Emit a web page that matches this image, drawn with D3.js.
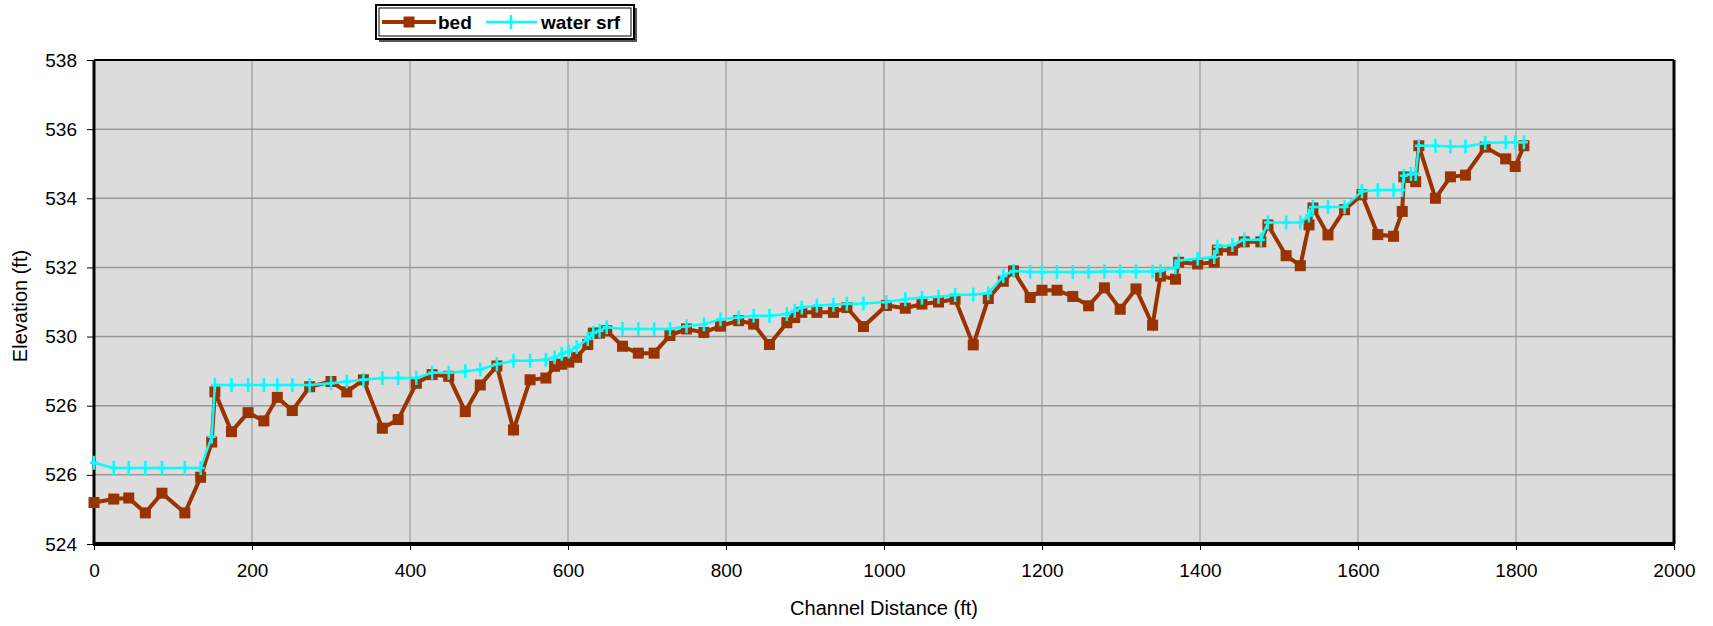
<!DOCTYPE html>
<html>
<head>
<meta charset="utf-8">
<script src="https://cdn.jsdelivr.net/npm/d3@7"></script>
<style>
  body { margin: 0; background: #fff; }
  text { font-family: "Liberation Sans", Arial, sans-serif; fill: #000; }
</style>
</head>
<body>
<div id="chart"></div>
<script>
// channel distance (ft) of each surveyed cross section
var distance = [0, 25, 44, 65, 86, 115, 135, 149, 153, 174, 195, 215, 232, 251, 273, 300, 320, 341, 365, 385,
  408, 428, 449, 470, 489, 510, 531, 552, 572, 583, 592, 601, 611, 625, 632, 640, 649, 669, 689, 709,
  729, 750, 772, 793, 816, 835, 855, 877, 887, 896, 915, 936, 953, 974, 1003, 1027, 1048, 1069, 1090, 1113,
  1132, 1151, 1164, 1185, 1200, 1219, 1239, 1259, 1279, 1299, 1319, 1340, 1350, 1369, 1373, 1397, 1418, 1422, 1441, 1456,
  1477, 1486, 1509, 1527, 1538, 1543, 1562, 1583, 1605, 1625, 1645, 1656, 1658, 1667, 1673, 1677, 1698, 1717, 1736, 1761,
  1787, 1799, 1810];

// bed elevation (ft)
var bed = [525.2, 525.3, 525.33, 524.9, 525.47, 524.9, 525.93, 526.95, 528.4, 527.25, 527.8, 527.56, 528.24, 527.86, 528.55, 528.7, 528.4, 528.75, 527.35, 527.6,
  528.65, 528.9, 528.85, 527.83, 528.6, 529.15, 527.3, 528.75, 528.8, 529.14, 529.2, 529.26, 529.4, 529.77, 530.1, 530.1, 530.17, 529.72, 529.52, 529.52,
  530.03, 530.22, 530.12, 530.3, 530.46, 530.36, 529.77, 530.4, 530.55, 530.7, 530.7, 530.7, 530.84, 530.29, 530.9, 530.82, 530.94, 531.0, 531.08, 529.76,
  531.1, 531.6, 531.9, 531.13, 531.34, 531.34, 531.16, 530.89, 531.41, 530.79, 531.38, 530.33, 531.75, 531.66, 532.15, 532.1, 532.15, 532.5, 532.5, 532.74,
  532.74, 533.23, 532.34, 532.05, 533.23, 533.72, 532.94, 533.67, 534.1, 532.95, 532.9, 533.62, 534.62, 534.6, 534.48, 535.52, 534.0, 534.62, 534.67, 535.48,
  535.14, 534.92, 535.52];

// water surface elevation (ft)
var waterSrf = [526.35, 526.2, 526.2, 526.2, 526.2, 526.2, 526.2, 527.1, 528.6, 528.6, 528.6, 528.6, 528.6, 528.6, 528.6, 528.65, 528.7, 528.75, 528.8, 528.8,
  528.8, 528.95, 528.95, 529.0, 529.05, 529.2, 529.3, 529.3, 529.33, 529.4, 529.5, 529.57, 529.7, 529.93, 530.1, 530.17, 530.27, 530.22, 530.22, 530.22,
  530.22, 530.3, 530.36, 530.5, 530.55, 530.6, 530.6, 530.65, 530.75, 530.84, 530.9, 530.92, 530.95, 530.96, 531.0, 531.08, 531.12, 531.15, 531.2, 531.22,
  531.25, 531.75, 531.9, 531.87, 531.87, 531.87, 531.87, 531.87, 531.88, 531.88, 531.88, 531.88, 531.9, 532.0, 532.2, 532.25, 532.3, 532.6, 532.65, 532.8,
  532.8, 533.3, 533.3, 533.3, 533.5, 533.75, 533.75, 533.75, 534.2, 534.24, 534.24, 534.24, 534.65, 534.7, 534.7, 535.52, 535.52, 535.5, 535.5, 535.6,
  535.62, 535.62, 535.62];

var xTicks = [0, 200, 400, 600, 800, 1000, 1200, 1400, 1600, 1800, 2000];
var yTicks = [524, 526, 528, 530, 532, 534, 536, 538];
var yTickLabels = ["524", "526", "526", "530", "532", "534", "536", "538"];

var W = 1713, H = 626;
var margin = {top: 60, right: 39, bottom: 82, left: 94},
    width = W - margin.left - margin.right,
    height = H - margin.top - margin.bottom;

var svg = d3.select("#chart")
  .append("svg")
    .attr("width", W)
    .attr("height", H);

var g = svg.append("g")
    .attr("transform", "translate(" + margin.left + "," + margin.top + ")");

var x = d3.scaleLinear().domain([0, 2000]).range([0, width]);
var y = d3.scaleLinear().domain([524, 538]).range([height, 0]);

// plot area background
g.append("rect")
  .attr("width", width)
  .attr("height", height)
  .attr("fill", "#dcdcdc");

// gridlines
g.selectAll(".vgrid")
  .data(xTicks.slice(1, -1))
  .enter().append("line")
    .attr("x1", d => x(d)).attr("x2", d => x(d))
    .attr("y1", 0).attr("y2", height)
    .attr("stroke", "#a8a8a8")
    .attr("stroke-width", 1.5);

g.selectAll(".hgrid")
  .data(yTicks.slice(1, -1))
  .enter().append("line")
    .attr("x1", 0).attr("x2", width)
    .attr("y1", d => y(d)).attr("y2", d => y(d))
    .attr("stroke", "#999")
    .attr("stroke-width", 1.5);

// axes
var xAxis = g.append("g")
  .attr("transform", "translate(0," + height + ")")
  .call(d3.axisBottom(x).tickValues(xTicks).tickSize(6).tickPadding(14).tickFormat(d3.format("d")));
xAxis.select(".domain").remove();
xAxis.selectAll("text").style("font-size", "19px");

var yAxis = g.append("g")
  .call(d3.axisLeft(y).tickValues(yTicks).tickSize(7).tickPadding(10)
    .tickFormat((d, i) => yTickLabels[i]));
yAxis.select(".domain").remove();
yAxis.selectAll("text").style("font-size", "19px");

// frame
g.append("line").attr("x1", 0).attr("x2", width).attr("y1", 0).attr("y2", 0)
  .attr("stroke", "#000").attr("stroke-width", 2);
g.append("line").attr("x1", width).attr("x2", width).attr("y1", 0).attr("y2", height)
  .attr("stroke", "#000").attr("stroke-width", 3);
g.append("line").attr("x1", 0).attr("x2", 0).attr("y1", 0).attr("y2", height)
  .attr("stroke", "#000").attr("stroke-width", 3);
g.append("line").attr("x1", -1).attr("x2", width + 1).attr("y1", height).attr("y2", height)
  .attr("stroke", "#000").attr("stroke-width", 4);

// series
var bedPts = distance.map((d, i) => [d, bed[i]]);
var wsPts = distance.map((d, i) => [d, waterSrf[i]]);

var line = d3.line().x(d => x(d[0])).y(d => y(d[1]));

g.append("path")
  .datum(bedPts)
  .attr("fill", "none")
  .attr("stroke", "#993300")
  .attr("stroke-width", 4)
  .attr("d", line);

g.selectAll(".bedpt")
  .data(bedPts)
  .enter().append("rect")
    .attr("x", d => x(d[0]) - 5.5)
    .attr("y", d => y(d[1]) - 5.5)
    .attr("width", 11)
    .attr("height", 11)
    .attr("fill", "#993300");

g.append("path")
  .datum(wsPts)
  .attr("fill", "none")
  .attr("stroke", "#00ffff")
  .attr("stroke-width", 2.5)
  .attr("d", line);

g.selectAll(".wspt")
  .data(wsPts)
  .enter().append("path")
    .attr("transform", d => "translate(" + x(d[0]) + "," + y(d[1]) + ")")
    .attr("d", "M0,-7V7M-4,0H4")
    .attr("stroke", "#00ffff")
    .attr("stroke-width", 2.5);

// axis titles
svg.append("text")
  .attr("x", margin.left + x(1000))
  .attr("y", 615)
  .attr("text-anchor", "middle")
  .style("font-size", "20px")
  .text("Channel Distance (ft)");

svg.append("text")
  .attr("transform", "translate(27," + (margin.top + height / 2 + 4) + ") rotate(-90)")
  .attr("text-anchor", "middle")
  .style("font-size", "20px")
  .text("Elevation (ft)");

// legend
var lg = svg.append("g").attr("transform", "translate(376,5)");
lg.append("rect").attr("x", 3).attr("y", 3).attr("width", 258).attr("height", 34).attr("fill", "#555");
lg.append("rect").attr("x", 0).attr("y", 0).attr("width", 258).attr("height", 34)
  .attr("fill", "#fff").attr("stroke", "#000").attr("stroke-width", 2);
lg.append("rect").attr("x", 3).attr("y", 3).attr("width", 252).attr("height", 28)
  .attr("fill", "none").attr("stroke", "#000").attr("stroke-width", 1);
lg.append("line").attr("x1", 6).attr("x2", 60).attr("y1", 17).attr("y2", 17)
  .attr("stroke", "#993300").attr("stroke-width", 4);
lg.append("rect").attr("x", 27.5).attr("y", 11.5).attr("width", 11).attr("height", 11).attr("fill", "#993300");
lg.append("text").attr("x", 62).attr("y", 24).style("font-size", "19px").style("font-weight", "bold").text("bed");
lg.append("line").attr("x1", 110).attr("x2", 161).attr("y1", 17).attr("y2", 17)
  .attr("stroke", "#00ffff").attr("stroke-width", 2.5);
lg.append("path").attr("transform", "translate(135,17)").attr("d", "M0,-7V7M-4,0H4")
  .attr("stroke", "#00ffff").attr("stroke-width", 2.5);
lg.append("text").attr("x", 165).attr("y", 24).style("font-size", "19px").style("font-weight", "bold").text("water srf");
</script>
</body>
</html>
